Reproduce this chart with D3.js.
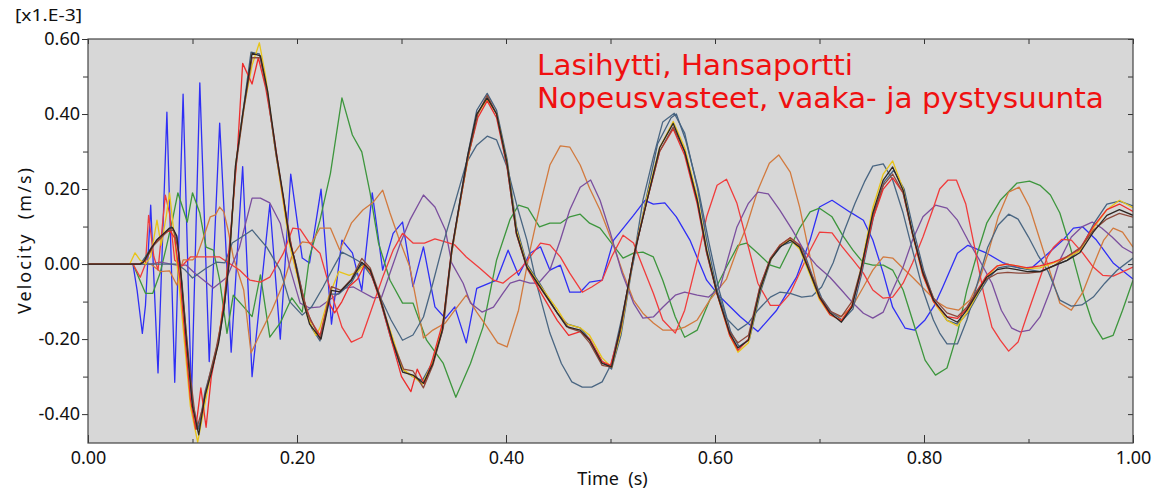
<!DOCTYPE html>
<html>
<head>
<meta charset="utf-8">
<script src="https://cdn.jsdelivr.net/npm/d3@7"></script>
<style>
  body { margin: 0; background: #fff; }
  svg { display: block; font-family: "Noto Sans", "DejaVu Sans", sans-serif; }
</style>
</head>
<body>
<svg id="chart" width="1158" height="491"></svg>
<script>
// Velocity responses, values in [x1.E-3] m/s, time in s
var xTicks = [0, 0.2, 0.4, 0.6, 0.8, 1.0],
    yTicks = [-0.4, -0.2, 0, 0.2, 0.4, 0.6],
    titleLines = ['Lasihytti, Hansaportti', 'Nopeusvasteet, vaaka- ja pystysuunta'];

// Scattered responses
var blueVel = [[0,0],[0.043,0],[0.047,-0.07],[0.052,-0.185],[0.055,-0.11],[0.06,0.157],[0.067,-0.29],[0.0755,0.405],[0.083,-0.315],[0.091,0.453],[0.099,-0.36],[0.107,0.483],[0.116,-0.26],[0.126,0.376],[0.137,-0.235],[0.148,0.26],[0.157,-0.3],[0.174,0.16],[0.184,-0.2],[0.194,0.24],[0.205,0.016],[0.212,0.003],[0.223,0.2],[0.233,-0.16],[0.243,0.064],[0.253,0.03],[0.262,-0.07],[0.272,0.19],[0.282,-0.016],[0.292,0.082],[0.301,0.112],[0.311,-0.06],[0.321,0.046],[0.332,-0.114],[0.342,-0.145],[0.351,-0.114],[0.362,-0.21],[0.372,-0.065],[0.391,-0.043],[0.402,0.037],[0.412,-0.03],[0.423,0.029],[0.433,0.046],[0.442,-0.016],[0.452,-0.003],[0.461,-0.075],[0.471,-0.075],[0.48,-0.048],[0.492,-0.043],[0.503,0.064],[0.522,0.13],[0.533,0.17],[0.541,0.16],[0.552,0.163],[0.563,0.126],[0.576,0.064],[0.592,-0.043],[0.605,-0.088],[0.624,-0.14],[0.641,-0.18],[0.659,-0.123],[0.678,-0.035],[0.691,0.064],[0.70,0.152],[0.712,0.17],[0.729,0.139],[0.742,0.117],[0.751,0.064],[0.761,-0.024],[0.77,-0.115],[0.782,-0.171],[0.791,-0.176],[0.801,-0.149],[0.81,-0.11],[0.818,-0.061],[0.832,0.029],[0.842,0.05],[0.86,0.029],[0.876,0.003],[0.892,-0.011],[0.904,-0.008],[0.919,0.029],[0.933,0.064],[0.943,0.096],[0.952,0.099],[0.965,0.064],[0.981,0.003],[1.0,-0.04]];

var greenVel = [[0,0],[0.043,0],[0.055,-0.078],[0.062,-0.078],[0.069,-0.024],[0.075,0.046],[0.081,0.12],[0.086,0.19],[0.095,0.112],[0.1,0.19],[0.107,0.136],[0.113,0.045],[0.12,0.037],[0.126,-0.043],[0.133,-0.185],[0.139,-0.083],[0.149,-0.114],[0.157,-0.14],[0.165,-0.029],[0.174,-0.195],[0.184,-0.157],[0.195,-0.09],[0.205,-0.128],[0.212,0.019],[0.222,0.117],[0.232,0.242],[0.243,0.443],[0.253,0.344],[0.262,0.299],[0.27,0.189],[0.278,0.056],[0.289,-0.043],[0.301,-0.104],[0.311,-0.104],[0.324,-0.203],[0.34,-0.265],[0.352,-0.355],[0.366,-0.265],[0.378,-0.168],[0.391,0.011],[0.404,0.12],[0.412,0.157],[0.421,0.149],[0.432,0.099],[0.442,0.109],[0.452,0.109],[0.461,0.126],[0.471,0.133],[0.48,0.109],[0.49,0.096],[0.501,0.056],[0.512,0.016],[0.522,0.029],[0.531,0.032],[0.541,0.019],[0.55,-0.043],[0.562,-0.141],[0.571,-0.195],[0.583,-0.176],[0.595,-0.096],[0.611,-0.008],[0.622,0.05],[0.63,0.056],[0.641,0.029],[0.653,-0.003],[0.662,-0.011],[0.672,0.045],[0.681,0.096],[0.691,0.139],[0.70,0.149],[0.712,0.126],[0.722,0.077],[0.732,0.037],[0.742,0.003],[0.751,-0.003],[0.761,-0.003],[0.77,-0.016],[0.78,-0.069],[0.789,-0.149],[0.801,-0.256],[0.811,-0.296],[0.822,-0.277],[0.832,-0.184],[0.841,-0.069],[0.851,0.029],[0.86,0.109],[0.873,0.17],[0.889,0.216],[0.901,0.221],[0.911,0.21],[0.921,0.184],[0.93,0.136],[0.94,0.045],[0.951,-0.069],[0.961,-0.155],[0.971,-0.2],[0.981,-0.19],[0.99,-0.123],[1.0,-0.043]];

var orangeVel = [[0,0],[0.06,0],[0.069,-0.02],[0.078,-0.018],[0.085,-0.056],[0.091,0.011],[0.1,0.011],[0.104,0.02],[0.112,0.083],[0.117,0.126],[0.122,0.131],[0.126,0.152],[0.13,0.139],[0.134,0.091],[0.139,0.019],[0.149,-0.069],[0.156,-0.237],[0.165,-0.184],[0.176,-0.123],[0.187,-0.051],[0.195,0.02],[0.205,0.059],[0.214,0.056],[0.222,0.096],[0.232,0.096],[0.241,0.037],[0.252,0.109],[0.263,0.144],[0.273,0.165],[0.282,0.197],[0.289,0.136],[0.297,0.072],[0.308,-0.008],[0.321,-0.197],[0.33,-0.176],[0.342,-0.157],[0.351,-0.123],[0.362,-0.083],[0.372,-0.128],[0.382,-0.168],[0.392,-0.21],[0.401,-0.221],[0.412,-0.123],[0.423,0.037],[0.433,0.162],[0.442,0.264],[0.452,0.315],[0.461,0.312],[0.471,0.264],[0.48,0.202],[0.49,0.144],[0.501,0.064],[0.512,-0.024],[0.522,-0.096],[0.531,-0.131],[0.541,-0.157],[0.55,-0.176],[0.562,-0.176],[0.571,-0.168],[0.583,-0.149],[0.595,-0.096],[0.611,-0.04],[0.621,0.037],[0.63,0.099],[0.641,0.197],[0.652,0.269],[0.661,0.291],[0.672,0.245],[0.681,0.152],[0.691,0.019],[0.70,-0.088],[0.71,-0.131],[0.72,-0.141],[0.731,-0.115],[0.742,-0.061],[0.751,-0.016],[0.761,0.019],[0.77,0.016],[0.78,-0.011],[0.789,-0.035],[0.801,-0.069],[0.812,-0.1],[0.822,-0.117],[0.833,-0.123],[0.844,-0.096],[0.853,-0.043],[0.863,0.045],[0.871,0.126],[0.881,0.192],[0.891,0.205],[0.901,0.152],[0.911,0.064],[0.921,-0.024],[0.93,-0.104],[0.941,-0.123],[0.952,-0.075],[0.963,0.003],[0.972,0.064],[0.981,0.096],[0.99,0.085],[1.0,0.045]];

var purpleVel = [[0,0],[0.06,0],[0.069,0.005],[0.085,-0.003],[0.094,-0.003],[0.102,-0.024],[0.12,-0.064],[0.133,-0.035],[0.145,0.045],[0.157,0.176],[0.165,0.176],[0.174,0.163],[0.184,0.109],[0.193,-0.008],[0.203,-0.104],[0.212,-0.117],[0.222,-0.114],[0.235,-0.088],[0.246,-0.064],[0.254,-0.061],[0.263,-0.075],[0.273,-0.09],[0.281,-0.088],[0.289,-0.024],[0.299,0.056],[0.308,0.117],[0.321,0.184],[0.332,0.152],[0.342,0.091],[0.348,0.003],[0.359,-0.051],[0.366,-0.104],[0.377,-0.128],[0.388,-0.115],[0.397,-0.078],[0.404,-0.051],[0.413,-0.043],[0.423,-0.051],[0.431,-0.051],[0.442,-0.016],[0.452,0.064],[0.461,0.144],[0.471,0.205],[0.481,0.224],[0.49,0.17],[0.5,0.082],[0.511,-0.024],[0.522,-0.104],[0.531,-0.144],[0.541,-0.141],[0.55,-0.115],[0.562,-0.083],[0.571,-0.075],[0.583,-0.083],[0.594,-0.088],[0.605,-0.061],[0.612,0.011],[0.621,0.099],[0.632,0.162],[0.641,0.192],[0.651,0.187],[0.662,0.144],[0.674,0.091],[0.685,0.037],[0.697,-0.003],[0.71,-0.035],[0.721,-0.069],[0.732,-0.104],[0.742,-0.131],[0.751,-0.144],[0.761,-0.128],[0.77,-0.069],[0.78,-0.008],[0.789,0.064],[0.799,0.126],[0.811,0.157],[0.822,0.149],[0.832,0.117],[0.842,0.064],[0.853,0.011],[0.865,-0.051],[0.874,-0.123],[0.884,-0.171],[0.892,-0.181],[0.901,-0.176],[0.911,-0.141],[0.921,-0.069],[0.93,0.011],[0.941,0.072],[0.951,0.099],[0.961,0.112],[0.97,0.096],[0.98,0.072],[0.99,0.045],[1.0,0.029]];

var redVel = [[0,0],[0.043,0],[0.05,-0.035],[0.055,0.0],[0.058,0.13],[0.063,0.02],[0.067,-0.016],[0.074,0.184],[0.078,0.136],[0.083,0.01],[0.09,-0.005],[0.098,0.019],[0.126,0.019],[0.145,-0.016],[0.155,-0.043],[0.165,-0.048],[0.174,-0.035],[0.187,0.029],[0.196,0.096],[0.203,0.093],[0.212,0.056],[0.222,0.029],[0.232,-0.069],[0.243,-0.168],[0.252,-0.208],[0.262,-0.195],[0.272,-0.115],[0.282,-0.035],[0.292,0.037],[0.301,0.082],[0.311,0.056],[0.322,0.056],[0.332,0.067],[0.342,0.059],[0.351,0.051],[0.362,0.019],[0.375,-0.011],[0.388,-0.043],[0.397,-0.051],[0.404,-0.035],[0.413,-0.016],[0.423,0.019],[0.433,0.056],[0.442,0.051],[0.452,0.019],[0.461,-0.024],[0.473,-0.075],[0.482,-0.061],[0.492,-0.043],[0.501,0.019],[0.512,0.077],[0.522,0.056],[0.531,-0.008],[0.541,-0.078],[0.55,-0.149],[0.562,-0.184],[0.571,-0.123],[0.583,0.011],[0.592,0.126],[0.602,0.21],[0.611,0.226],[0.621,0.162],[0.632,0.045],[0.641,-0.051],[0.653,-0.11],[0.662,-0.11],[0.672,-0.078],[0.681,-0.024],[0.691,0.037],[0.70,0.085],[0.712,0.083],[0.722,0.045],[0.732,0.011],[0.742,-0.024],[0.751,-0.069],[0.761,-0.091],[0.77,-0.088],[0.78,-0.051],[0.789,0.003],[0.799,0.072],[0.809,0.15],[0.815,0.2],[0.823,0.224],[0.831,0.224],[0.84,0.16],[0.849,0.037],[0.857,-0.077],[0.865,-0.168],[0.873,-0.203],[0.881,-0.232],[0.89,-0.208],[0.898,-0.141],[0.908,-0.061],[0.918,0.019],[0.924,0.045],[0.932,0.066],[0.941,0.064],[0.952,0.029],[0.962,-0.008],[0.971,-0.03],[0.981,-0.032],[0.99,-0.021],[1.0,-0.008]];

var slateVel = [[0,0],[0.085,0],[0.093,-0.016],[0.1,-0.037],[0.113,-0.011],[0.123,0.005],[0.131,0.003],[0.138,0.056],[0.147,0.072],[0.157,0.091],[0.171,0.045],[0.184,-0.016],[0.193,-0.1],[0.205,-0.136],[0.214,-0.114],[0.225,-0.061],[0.235,-0.008],[0.243,0.032],[0.252,0.019],[0.262,0.003],[0.272,-0.035],[0.281,-0.096],[0.29,-0.149],[0.301,-0.203],[0.311,-0.189],[0.321,-0.141],[0.33,-0.051],[0.34,0.056],[0.35,0.152],[0.362,0.269],[0.372,0.317],[0.382,0.341],[0.391,0.331],[0.401,0.259],[0.411,0.15],[0.42,0.064],[0.43,-0.061],[0.442,-0.184],[0.453,-0.265],[0.463,-0.314],[0.473,-0.328],[0.482,-0.328],[0.492,-0.314],[0.501,-0.265],[0.511,-0.141],[0.522,0.011],[0.531,0.17],[0.541,0.285],[0.55,0.379],[0.561,0.402],[0.571,0.349],[0.583,0.205],[0.592,0.064],[0.602,-0.069],[0.611,-0.145],[0.622,-0.176],[0.632,-0.157],[0.641,-0.123],[0.653,-0.088],[0.662,-0.075],[0.672,-0.078],[0.683,-0.088],[0.693,-0.085],[0.702,-0.061],[0.713,0.003],[0.724,0.091],[0.734,0.162],[0.743,0.219],[0.751,0.261],[0.761,0.267],[0.77,0.224],[0.78,0.136],[0.789,0.037],[0.799,-0.069],[0.809,-0.149],[0.815,-0.184],[0.822,-0.213],[0.832,-0.213],[0.841,-0.149],[0.852,-0.043],[0.861,0.045],[0.871,0.104],[0.881,0.133],[0.89,0.12],[0.9,0.072],[0.909,0.024],[0.919,-0.021],[0.93,-0.096],[0.941,-0.112],[0.951,-0.109],[0.962,-0.088],[0.973,-0.051],[0.985,-0.016],[1.0,0.016]];

// Main group (nearly identical vertical responses)
var mainDarkVel = [[0,0],[0.05,0],[0.053,0.005],[0.06,0.04],[0.066,0.065],[0.072,0.08],[0.078,0.096],[0.081,0.097],[0.085,0.075],[0.089,-0.03],[0.094,-0.2],[0.1,-0.38],[0.106,-0.455],[0.112,-0.35],[0.118,-0.29],[0.125,-0.21],[0.13,-0.12],[0.135,0.0],[0.141,0.26],[0.148,0.4],[0.157,0.562],[0.165,0.555],[0.172,0.46],[0.18,0.3],[0.187,0.18],[0.193,0.06],[0.198,0.01],[0.205,-0.09],[0.212,-0.16],[0.223,-0.2],[0.233,-0.07],[0.241,-0.074],[0.252,-0.043],[0.262,0.005],[0.27,-0.016],[0.279,-0.088],[0.292,-0.21],[0.301,-0.288],[0.311,-0.296],[0.321,-0.318],[0.33,-0.265],[0.339,-0.176],[0.348,0.037],[0.356,0.17],[0.363,0.285],[0.372,0.4],[0.382,0.443],[0.391,0.4],[0.401,0.27],[0.41,0.083],[0.42,-0.008],[0.4325,-0.06],[0.449,-0.13],[0.458,-0.167],[0.471,-0.176],[0.48,-0.203],[0.492,-0.265],[0.501,-0.274],[0.509,-0.176],[0.522,0.019],[0.535,0.17],[0.547,0.31],[0.56,0.375],[0.571,0.3],[0.583,0.17],[0.592,0.037],[0.602,-0.078],[0.614,-0.184],[0.622,-0.224],[0.632,-0.203],[0.643,-0.069],[0.653,0.011],[0.662,0.045],[0.672,0.064],[0.681,0.045],[0.691,-0.024],[0.70,-0.088],[0.71,-0.13],[0.721,-0.155],[0.731,-0.115],[0.739,-0.024],[0.751,0.136],[0.761,0.224],[0.77,0.259],[0.78,0.197],[0.789,0.083],[0.799,-0.024],[0.809,-0.096],[0.822,-0.141],[0.832,-0.155],[0.841,-0.123],[0.851,-0.077],[0.86,-0.035],[0.87,-0.015],[0.879,-0.01],[0.889,-0.015],[0.899,-0.02],[0.911,-0.02],[0.924,-0.005],[0.937,0.01],[0.949,0.03],[0.962,0.085],[0.975,0.13],[0.987,0.145],[1.0,0.13]];

var mainRedVel = [[0,0],[0.05,0],[0.055,0.01],[0.062,0.05],[0.07,0.075],[0.078,0.09],[0.083,0.07],[0.088,-0.04],[0.093,-0.2],[0.098,-0.36],[0.103,-0.44],[0.108,-0.33],[0.113,-0.435],[0.118,-0.3],[0.125,-0.2],[0.131,-0.08],[0.137,0.1],[0.143,0.3],[0.148,0.535],[0.157,0.48],[0.163,0.55],[0.17,0.47],[0.178,0.34],[0.186,0.19],[0.193,0.07],[0.2,-0.02],[0.207,-0.1],[0.213,-0.15],[0.222,-0.19],[0.23,-0.1],[0.236,-0.13],[0.243,-0.1],[0.25,-0.06],[0.258,-0.04],[0.265,0.0],[0.27,-0.02],[0.28,-0.1],[0.29,-0.2],[0.3,-0.3],[0.309,-0.34],[0.315,-0.28],[0.322,-0.32],[0.33,-0.25],[0.34,-0.15],[0.348,0.04],[0.357,0.18],[0.364,0.29],[0.373,0.39],[0.382,0.435],[0.391,0.39],[0.401,0.26],[0.41,0.08],[0.42,-0.01],[0.432,-0.07],[0.449,-0.15],[0.46,-0.19],[0.471,-0.18],[0.48,-0.2],[0.492,-0.26],[0.5,-0.27],[0.509,-0.18],[0.522,0.02],[0.535,0.17],[0.547,0.3],[0.56,0.36],[0.571,0.29],[0.583,0.16],[0.592,0.03],[0.602,-0.08],[0.614,-0.19],[0.622,-0.23],[0.632,-0.2],[0.643,-0.06],[0.653,0.015],[0.662,0.05],[0.672,0.07],[0.681,0.05],[0.691,-0.02],[0.7,-0.09],[0.71,-0.135],[0.721,-0.15],[0.731,-0.11],[0.739,-0.03],[0.751,0.12],[0.761,0.2],[0.77,0.23],[0.78,0.19],[0.789,0.08],[0.799,-0.03],[0.809,-0.1],[0.822,-0.14],[0.832,-0.145],[0.841,-0.12],[0.851,-0.07],[0.86,-0.03],[0.87,-0.005],[0.879,0.0],[0.889,-0.005],[0.899,-0.01],[0.911,-0.005],[0.924,0.005],[0.937,0.02],[0.949,0.04],[0.962,0.1],[0.975,0.145],[0.987,0.16],[1.0,0.14]];

var mainYellowVel = [[0,0],[0.04,0],[0.045,0.03],[0.05,0.01],[0.055,0.0],[0.06,0.02],[0.066,0.117],[0.07,0.05],[0.075,0.13],[0.078,0.19],[0.082,0.09],[0.087,-0.05],[0.092,-0.2],[0.098,-0.38],[0.105,-0.475],[0.11,-0.4],[0.117,-0.3],[0.124,-0.22],[0.13,-0.1],[0.136,0.05],[0.142,0.28],[0.15,0.43],[0.157,0.53],[0.164,0.59],[0.17,0.5],[0.178,0.33],[0.186,0.18],[0.193,0.05],[0.2,-0.03],[0.21,-0.14],[0.218,-0.19],[0.222,-0.17],[0.23,-0.09],[0.24,-0.02],[0.25,-0.03],[0.258,-0.02],[0.265,0.0],[0.272,-0.03],[0.28,-0.1],[0.292,-0.2],[0.301,-0.28],[0.311,-0.3],[0.32,-0.32],[0.33,-0.26],[0.339,-0.17],[0.348,0.03],[0.357,0.18],[0.365,0.3],[0.373,0.4],[0.382,0.44],[0.391,0.4],[0.401,0.27],[0.41,0.09],[0.42,-0.005],[0.432,-0.055],[0.449,-0.12],[0.458,-0.16],[0.471,-0.17],[0.48,-0.19],[0.492,-0.25],[0.501,-0.275],[0.51,-0.18],[0.522,0.02],[0.535,0.18],[0.547,0.31],[0.56,0.38],[0.571,0.31],[0.583,0.18],[0.592,0.04],[0.602,-0.08],[0.614,-0.19],[0.622,-0.235],[0.632,-0.21],[0.643,-0.07],[0.653,0.01],[0.662,0.05],[0.672,0.065],[0.681,0.04],[0.691,-0.03],[0.7,-0.095],[0.71,-0.135],[0.721,-0.15],[0.731,-0.11],[0.739,-0.02],[0.751,0.15],[0.761,0.24],[0.77,0.275],[0.78,0.2],[0.789,0.08],[0.799,-0.03],[0.809,-0.1],[0.822,-0.15],[0.832,-0.165],[0.841,-0.13],[0.851,-0.08],[0.86,-0.035],[0.87,-0.005],[0.879,0.0],[0.889,-0.005],[0.899,-0.012],[0.911,-0.01],[0.924,0.003],[0.937,0.017],[0.949,0.035],[0.962,0.095],[0.975,0.145],[0.987,0.17],[1.0,0.15]];

var mainSlateVel = [[0,0],[0.05,0],[0.055,0.02],[0.062,0.05],[0.068,0.07],[0.075,0.085],[0.08,0.1],[0.085,0.07],[0.09,-0.05],[0.095,-0.22],[0.1,-0.37],[0.106,-0.44],[0.112,-0.34],[0.119,-0.27],[0.126,-0.19],[0.131,-0.1],[0.136,0.05],[0.142,0.28],[0.149,0.42],[0.156,0.565],[0.164,0.56],[0.171,0.47],[0.179,0.31],[0.187,0.17],[0.194,0.05],[0.2,-0.01],[0.207,-0.1],[0.214,-0.17],[0.222,-0.205],[0.232,-0.08],[0.24,-0.08],[0.252,-0.05],[0.262,0.0],[0.27,-0.02],[0.279,-0.09],[0.29,-0.2],[0.3,-0.28],[0.311,-0.3],[0.32,-0.31],[0.33,-0.26],[0.339,-0.18],[0.348,0.03],[0.356,0.17],[0.364,0.3],[0.372,0.41],[0.382,0.455],[0.391,0.41],[0.401,0.28],[0.41,0.1],[0.42,0.0],[0.432,-0.05],[0.449,-0.13],[0.459,-0.16],[0.471,-0.17],[0.48,-0.2],[0.492,-0.26],[0.501,-0.28],[0.51,-0.19],[0.52,-0.02],[0.533,0.16],[0.545,0.32],[0.558,0.39],[0.563,0.4],[0.572,0.33],[0.584,0.2],[0.594,0.06],[0.604,-0.07],[0.615,-0.18],[0.623,-0.22],[0.633,-0.2],[0.644,-0.07],[0.654,0.015],[0.664,0.05],[0.674,0.06],[0.684,0.04],[0.693,-0.03],[0.702,-0.09],[0.712,-0.13],[0.722,-0.15],[0.732,-0.12],[0.74,-0.03],[0.752,0.13],[0.762,0.22],[0.771,0.25],[0.781,0.2],[0.79,0.09],[0.8,-0.02],[0.81,-0.1],[0.822,-0.15],[0.832,-0.16],[0.842,-0.13],[0.852,-0.08],[0.861,-0.04],[0.871,-0.01],[0.881,-0.005],[0.891,-0.01],[0.9,-0.015],[0.912,-0.02],[0.924,-0.005],[0.937,0.01],[0.95,0.04],[0.963,0.11],[0.975,0.16],[0.987,0.168],[1.0,0.155]];

var mainBrownVel = [[0,0],[0.05,0],[0.055,0.01],[0.063,0.05],[0.07,0.07],[0.077,0.09],[0.082,0.09],[0.087,0.03],[0.092,-0.12],[0.098,-0.3],[0.104,-0.44],[0.11,-0.38],[0.116,-0.3],[0.123,-0.22],[0.13,-0.12],[0.135,0.02],[0.141,0.25],[0.149,0.41],[0.157,0.55],[0.165,0.55],[0.172,0.45],[0.18,0.29],[0.188,0.16],[0.195,0.04],[0.202,-0.04],[0.21,-0.13],[0.222,-0.2],[0.233,-0.06],[0.242,-0.07],[0.252,-0.04],[0.262,0.015],[0.27,-0.01],[0.28,-0.09],[0.292,-0.21],[0.302,-0.28],[0.311,-0.285],[0.321,-0.33],[0.33,-0.27],[0.34,-0.17],[0.348,0.03],[0.357,0.18],[0.364,0.29],[0.373,0.4],[0.382,0.45],[0.391,0.4],[0.401,0.26],[0.41,0.08],[0.42,-0.01],[0.432,-0.06],[0.449,-0.13],[0.46,-0.17],[0.471,-0.18],[0.48,-0.21],[0.492,-0.27],[0.501,-0.275],[0.51,-0.17],[0.522,0.02],[0.535,0.17],[0.547,0.3],[0.56,0.365],[0.571,0.3],[0.583,0.17],[0.592,0.03],[0.602,-0.08],[0.614,-0.18],[0.622,-0.21],[0.632,-0.19],[0.643,-0.06],[0.653,0.015],[0.662,0.05],[0.672,0.07],[0.681,0.05],[0.691,-0.02],[0.7,-0.085],[0.71,-0.125],[0.721,-0.14],[0.731,-0.1],[0.739,-0.02],[0.751,0.13],[0.761,0.21],[0.77,0.24],[0.78,0.19],[0.789,0.08],[0.799,-0.02],[0.809,-0.09],[0.822,-0.13],[0.832,-0.14],[0.841,-0.115],[0.851,-0.07],[0.86,-0.04],[0.87,-0.025],[0.88,-0.022],[0.89,-0.024],[0.9,-0.024],[0.912,-0.02],[0.924,-0.005],[0.937,0.02],[0.95,0.045],[0.962,0.09],[0.975,0.12],[0.987,0.135],[1.0,0.125]];

// Drawing order: scattered responses first, main group on top
var series = [
  {values: blueVel, color: '#2f2ff5'},
  {values: greenVel, color: '#3d963d'},
  {values: orangeVel, color: '#d27a3e'},
  {values: purpleVel, color: '#7b4f9e'},
  {values: redVel, color: '#f03c3c'},
  {values: slateVel, color: '#4a6682'},
  {values: mainSlateVel, color: '#456280'},
  {values: mainYellowVel, color: '#e8c418'},
  {values: mainRedVel, color: '#ee2c2c'},
  {values: mainBrownVel, color: '#8e4a3c'},
  {values: mainDarkVel, color: '#2e2622'}
];

var margin = {top: 39, right: 25, bottom: 48, left: 88},
    width = 1158, height = 491,
    plotW = width - margin.left - margin.right,
    plotH = height - margin.top - margin.bottom;

var svg = d3.select('#chart');

var x = d3.scaleLinear().domain([0, 1]).range([margin.left, margin.left + plotW]);
var y = d3.scaleLinear().domain([-0.477, 0.6]).range([margin.top + plotH, margin.top]);

var fmt = function(d) { return d.toFixed(2); };

// Plot background
svg.append('rect')
    .attr('x', x(0)).attr('y', y(0.6))
    .attr('width', plotW).attr('height', plotH)
    .attr('fill', '#d7d7d7');

svg.append('clipPath').attr('id', 'clip')
  .append('rect')
    .attr('x', x(0)).attr('y', y(0.6))
    .attr('width', plotW).attr('height', plotH);

// Title inside plot (DejaVu has compact line metrics, so the two lines stay apart)
var title = svg.append('g')
    .attr('fill', '#f01010')
    .style('font-family', '"DejaVu Sans", sans-serif')
    .style('font-size', '28px');
title.selectAll('text')
    .data(titleLines)
    .enter().append('text')
    .attr('x', 537)
    .attr('y', function(d, i) { return 75 + i * 33; })
    .attr('textLength', function(d, i) { return i === 0 ? 316 : 567; })
    .attr('lengthAdjust', 'spacingAndGlyphs')
    .text(function(d) { return d; });

// Lines
var line = d3.line()
    .x(function(d) { return x(d[0]); })
    .y(function(d) { return y(d[1]); });

svg.append('g')
    .attr('clip-path', 'url(#clip)')
  .selectAll('path')
    .data(series)
    .enter().append('path')
    .attr('d', function(d) { return line(d.values); })
    .attr('fill', 'none')
    .attr('stroke', function(d) { return d.color; })
    .attr('stroke-width', 1.3)
    .attr('stroke-linejoin', 'round');

// Axes
var minorX = d3.range(0.1, 1, 0.2),
    minorY = [-0.3, -0.1, 0.1, 0.3, 0.5];

function styleAxis(g) {
  g.select('.domain').remove();
  g.selectAll('line').attr('stroke', '#333');
  g.selectAll('text').attr('fill', '#111').style('font-size', '18px')
    .style('font-family', '"Noto Sans", "DejaVu Sans", sans-serif');
}

svg.append('g')
    .attr('transform', 'translate(0,' + y.range()[0] + ')')
    .call(d3.axisBottom(x).tickValues(xTicks).tickSize(-8).tickPadding(8).tickFormat(fmt))
    .call(styleAxis);

svg.append('g')
    .attr('transform', 'translate(0,' + y.range()[0] + ')')
    .call(d3.axisBottom(x).tickValues(minorX).tickSize(-4).tickFormat(''))
    .call(styleAxis);

svg.append('g')
    .attr('transform', 'translate(0,' + y.range()[1] + ')')
    .call(d3.axisTop(x).tickValues(xTicks.concat(minorX)).tickSize(-5).tickFormat(''))
    .call(styleAxis);

svg.append('g')
    .attr('transform', 'translate(' + x.range()[0] + ',0)')
    .call(d3.axisLeft(y).tickValues(yTicks).tickSize(6).tickPadding(2).tickFormat(fmt))
    .call(styleAxis);

svg.append('g')
    .attr('transform', 'translate(' + x.range()[0] + ',0)')
    .call(d3.axisLeft(y).tickValues(minorY).tickSize(5).tickFormat(''))
    .call(styleAxis);

svg.append('g')
    .attr('transform', 'translate(' + x.range()[1] + ',0)')
    .call(d3.axisRight(y).tickValues(yTicks.concat(minorY)).tickSize(-5).tickFormat(''))
    .call(styleAxis);

// Plot frame
svg.append('rect')
    .attr('x', x(0)).attr('y', y(0.6))
    .attr('width', plotW).attr('height', plotH)
    .attr('fill', 'none')
    .attr('stroke', '#444')
    .attr('stroke-width', 1.2);

// Labels
svg.append('text')
    .attr('x', 15).attr('y', 21)
    .attr('fill', '#111').style('font-size', '16px')
    .attr('textLength', 67)
    .attr('lengthAdjust', 'spacingAndGlyphs')
    .text('[x1.E-3]');

svg.append('text')
    .attr('x', (x.range()[0] + x.range()[1]) / 2 + 2)
    .attr('y', 485)
    .attr('text-anchor', 'middle')
    .attr('fill', '#111').style('font-size', '18px')
    .attr('xml:space', 'preserve')
    .text('Time  (s)');

svg.append('text')
    .attr('transform', 'translate(31,' + (y.range()[0] + y.range()[1]) / 2 + ') rotate(-90)')
    .attr('text-anchor', 'middle')
    .attr('fill', '#111').style('font-size', '18px')
    .attr('textLength', 146)
    .attr('lengthAdjust', 'spacing')
    .attr('xml:space', 'preserve')
    .text('Velocity  (m/s)');
</script>
</body>
</html>
